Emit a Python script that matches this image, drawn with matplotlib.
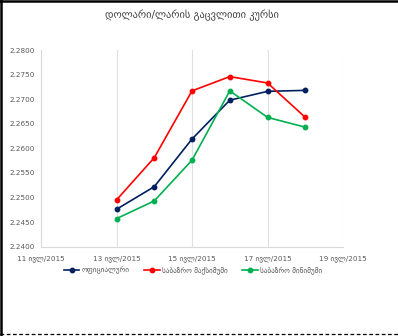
import matplotlib
matplotlib.use("Agg")
import matplotlib.pyplot as plt
import matplotlib.dates as mdates
from matplotlib.lines import Line2D
import datetime as dt

plt.rcParams['font.family'] = ['DejaVu Sans']

dates = [dt.date(2015, 7, d) for d in (13, 14, 15, 16, 17, 18)]
official = [2.2476, 2.2522, 2.2619, 2.2698, 2.2716, 2.2718]
market_max = [2.2495, 2.2581, 2.2717, 2.2746, 2.2733, 2.2663]
market_min = [2.2457, 2.2493, 2.2576, 2.2717, 2.2663, 2.2643]

series_names = ["ოფიციალური", "საბაზრო მაქსიმუმი", "საბაზრო მინიმუმი"]
series_colors = ["#002060", "#ff0000", "#00b050"]
title = "დოლარი/ლარის გაცვლითი კურსი"
tick_dates = [dt.date(2015, 7, d) for d in (11, 13, 15, 17, 19)]
month_label = "ივლ"

text_color = "#595959"

fig = plt.figure(figsize=(3.98, 3.36), dpi=100)
ax = fig.add_axes([0.103, 0.266, 0.759, 0.585])

for vals, color, name in zip([official, market_max, market_min], series_colors, series_names):
    ax.plot(dates, vals, color=color, lw=1.2, marker='o', ms=3.2, label=name)

ax.set_xlim(tick_dates[0], tick_dates[-1])
ax.set_ylim(2.24, 2.28)
ax.set_xticks(tick_dates)
ax.xaxis.set_major_formatter(
    mdates.DateFormatter(f"%d {month_label}/%Y"))
ax.set_yticks([2.24 + 0.005 * i for i in range(9)])
ax.yaxis.set_major_formatter(plt.FuncFormatter(lambda v, p: f"{v:.4f}"))

ax.grid(axis='x', color='#e0e0e0', lw=0.8)
ax.set_axisbelow(True)
for side in ('top', 'right'):
    ax.spines[side].set_visible(False)
for side in ('left', 'bottom'):
    ax.spines[side].set_color('#d9d9d9')
    ax.spines[side].set_linewidth(0.8)
ax.tick_params(length=0, labelsize=5.2, colors=text_color, pad=6)
ax.tick_params(axis='y', pad=4.5)

fig.text(0.482, 0.955, title, ha='center', va='center',
         fontsize=7.5, color='#404040')

handles = [Line2D([], [], color=c, lw=1.2, marker='o', ms=3.2) for c in series_colors]
fig.legend(handles, series_names, loc='center', bbox_to_anchor=(0.485, 0.196),
           ncol=3, frameon=False, fontsize=5.2, labelcolor=text_color,
           handlelength=2.2, handletextpad=0.3, columnspacing=2.0)

# frame edges of the exported panel
fig.add_artist(Line2D([0.0025, 0.0025], [0, 1], transform=fig.transFigure,
                      color='black', lw=1.8))
fig.add_artist(Line2D([0, 1], [0.9975, 0.9975], transform=fig.transFigure,
                      color='black', lw=1.8))
fig.add_artist(Line2D([0, 1], [0.0045, 0.0045], transform=fig.transFigure,
                      color='black', lw=0.9, ls=(0, (3, 2))))

fig.savefig("out.png", dpi=100, facecolor='white')
